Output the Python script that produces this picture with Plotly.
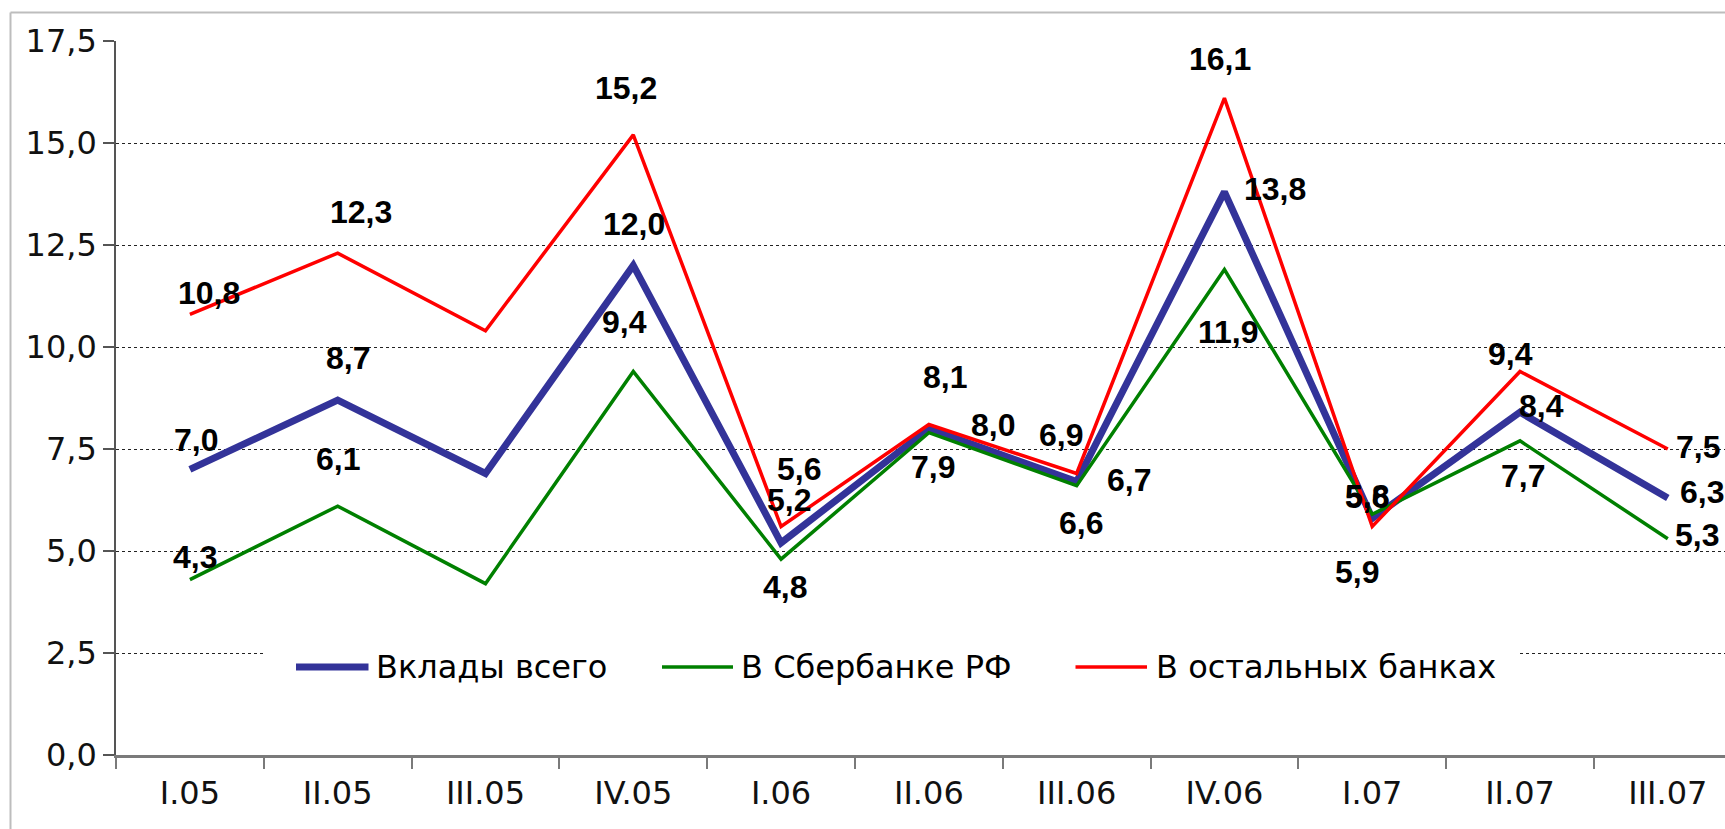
import plotly.graph_objects as go

# ---------------- data ----------------
categories = ["I.05", "II.05", "III.05", "IV.05", "I.06", "II.06", "III.06",
              "IV.06", "I.07", "II.07", "III.07"]
total_deposits = [7.0, 8.7, 6.9, 12.0, 5.2, 8.0, 6.7, 13.8, 5.8, 8.4, 6.3]
sberbank = [4.3, 6.1, 4.2, 9.4, 4.8, 7.9, 6.6, 11.9, 5.9, 7.7, 5.3]
other_banks = [10.8, 12.3, 10.4, 15.2, 5.6, 8.1, 6.9, 16.1, 5.6, 9.4, 7.5]
series_names = ["Вклады всего", "В Сбербанке РФ", "В остальных банках"]
y_tick_values = [0, 2.5, 5.0, 7.5, 10.0, 12.5, 15.0, 17.5]

# which points carry a data label (III.05 is unlabeled in the original)
label_shown = [True, True, False, True, True, True, True, True, True, True, True]

# ---------------- style ----------------
W, H = 1725, 829
ML, MT, MB, MR = 116, 41, 74, 0
PW, PH = W - ML - MR, H - MT - MB

colors = ["#333399", "#008000", "#FF0000"]
widths = [7, 3.5, 3.5]

# label offsets (pixels; dx right, dy down) relative to each point
off_total = [(6, -28), (10, -41), None, (1, -40), (8, -42), (64, -3), (52, -1),
             (51, -2), (-5, -21), (21, -5), (34, -5)]
off_sber = [(5, -22), (0, -46), None, (-9, -48), (4, 29), (4, 35), (4, 38),
            (4, 64), (-15, 59), (3, 36), (29, -3)]
off_other = [(19, -20), (23, -40), None, (-7, -46), (18, -57), (16, -47), (-16, -37),
             (-4, -38), (-5, -29), (-10, -16), (30, -1)]

series = [total_deposits, sberbank, other_banks]
offsets = [off_total, off_sber, off_other]


def pxx(x):
    return (x - ML) / PW


def pxy(y):
    return (H - MB - y) / PH


fig = go.Figure()
for name, vals, col, w in zip(series_names, series, colors, widths):
    fig.add_trace(go.Scatter(x=categories, y=vals, mode="lines", name=name,
                             line=dict(color=col, width=w), showlegend=False))

annotations = []
for vals, offs in zip(series, offsets):
    for i, (c, v) in enumerate(zip(categories, vals)):
        if not label_shown[i] or offs[i] is None:
            continue
        dx, dy = offs[i]
        annotations.append(dict(
            x=c, y=v, xref="x", yref="y", showarrow=False,
            text=f"{v:.1f}".replace(".", ","),
            xanchor="center", yanchor="middle", xshift=dx, yshift=-dy + 1,
            font=dict(family="Liberation Sans, Arial", size=32, color="black",
                      weight="bold"),
        ))

# custom legend
legend_y = 667
legend_items = [(296, 368.5, 374), (662, 733, 739), (1075.5, 1147, 1153.7)]
shapes = [
    # outer light border (left and top)
    dict(type="line", xref="paper", yref="paper", x0=pxx(10.5), x1=pxx(1760),
         y0=pxy(12.5), y1=pxy(12.5), line=dict(color="#bdbdbd", width=2), layer="above"),
    dict(type="line", xref="paper", yref="paper", x0=pxx(10.5), x1=pxx(10.5),
         y0=pxy(12.5), y1=pxy(860), line=dict(color="#bdbdbd", width=2), layer="above"),
    # legend background
    dict(type="rect", xref="paper", yref="paper", x0=pxx(264), x1=pxx(1518),
         y0=pxy(705), y1=pxy(628), fillcolor="white", line=dict(width=0), layer="above"),
]
for (x0, x1, tx), name, col, w in zip(legend_items, series_names, colors, widths):
    shapes.append(dict(type="line", xref="paper", yref="paper", x0=pxx(x0), x1=pxx(x1),
                       y0=pxy(legend_y), y1=pxy(legend_y),
                       line=dict(color=col, width=w), layer="above"))
    annotations.append(dict(x=pxx(tx), y=pxy(legend_y), xref="paper", yref="paper",
                            text=name, showarrow=False, xanchor="left", yanchor="middle",
                            font=dict(family="DejaVu Sans", size=32, color="black")))

fig.update_layout(
    width=W, height=H,
    margin=dict(l=ML, r=MR, t=MT, b=MB, pad=0),
    paper_bgcolor="white", plot_bgcolor="white",
    separators=", ",
    showlegend=False,
    shapes=shapes,
    annotations=annotations,
    font=dict(family="DejaVu Sans", size=32, color="#111"),
)
fig.update_xaxes(
    type="category", range=[-0.5, (W - ML) / (PW / 10.887) - 0.5],
    showline=True, linecolor="#7a7a7a", linewidth=2.5,
    ticks="outside", tickson="boundaries", ticklen=11, tickcolor="#7a7a7a", tickwidth=2,
    showgrid=False, zeroline=False,
    tickfont=dict(family="DejaVu Sans", size=32, color="#111"),
    ticklabelstandoff=8,
)
fig.update_yaxes(
    range=[0, 17.5], tickvals=y_tick_values, tickformat=".1f",
    showline=True, linecolor="#555", linewidth=1.5,
    ticks="outside", ticklen=11, tickcolor="#555", tickwidth=1.5,
    showgrid=True, gridcolor="#222", gridwidth=1, griddash="3px,3px",
    zeroline=False,
    tickfont=dict(family="DejaVu Sans", size=32, color="#111"),
    ticklabelstandoff=0,
)

fig.write_html("out.html", config={"displayModeBar": False},
               post_script="document.body.style.margin='0';document.body.style.overflow='hidden';")
